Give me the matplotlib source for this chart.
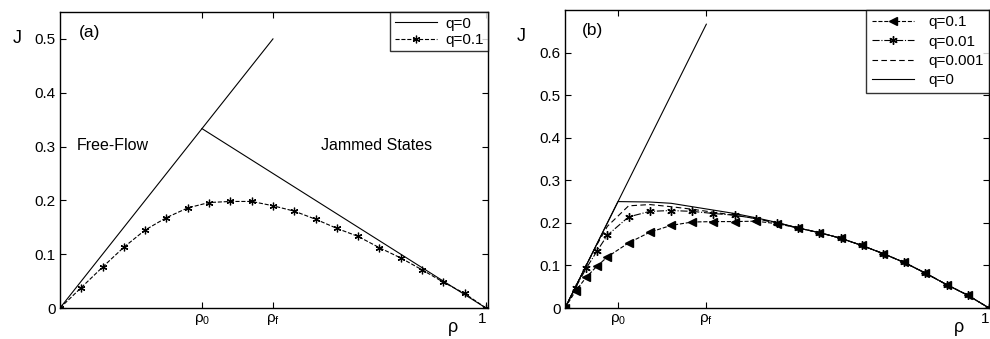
import numpy as np
import matplotlib
matplotlib.use('Agg')
import matplotlib.pyplot as plt

plt.rcParams['font.family'] = ['Liberation Sans', 'DejaVu Sans']
plt.rcParams['mathtext.fontset'] = 'custom'
plt.rcParams['mathtext.rm'] = 'Liberation Sans'
plt.rcParams['mathtext.it'] = 'Liberation Sans'

# ---- panel (a) data ----
rho0_a = 1 / 3
rhof_a = 0.5
free_rho_a = [0, rhof_a]
free_J_a = [0, 0.5]
jam_rho_a = [rho0_a, 1.0]
jam_J_a = [1 / 3, 0.0]
rho_a = [0, 0.05, 0.1, 0.15, 0.2, 0.25, 0.3, 0.35, 0.4, 0.45, 0.5,
         0.55, 0.6, 0.65, 0.7, 0.75, 0.8, 0.85, 0.9, 0.95, 1.0]
J_a_q01 = [0, 0.038, 0.076, 0.113, 0.145, 0.168, 0.186, 0.196, 0.198, 0.198, 0.19,
           0.18, 0.165, 0.148, 0.133, 0.112, 0.093, 0.071, 0.048, 0.027, 0]

# ---- panel (b) data ----
rho0_b = 0.125
rhof_b = 1 / 3
free_rho_b = [0, rhof_b]
free_J_b = [0, 2 / 3]
rho_b = [0, 0.025, 0.05, 0.075, 0.1, 0.15, 0.2, 0.25, 0.3, 0.35, 0.4, 0.45, 0.5,
         0.55, 0.6, 0.65, 0.7, 0.75, 0.8, 0.85, 0.9, 0.95, 1.0]
tail_J = [0.188, 0.177, 0.164, 0.147, 0.128, 0.107, 0.082, 0.055, 0.030, 0]
J_b_q01 = [0, 0.04, 0.072, 0.098, 0.12, 0.153, 0.178, 0.194, 0.202, 0.203,
           0.203, 0.204, 0.198] + tail_J
J_b_q001 = [0, 0.048, 0.093, 0.133, 0.171, 0.214, 0.227, 0.229, 0.227, 0.222,
            0.218, 0.21, 0.2] + tail_J
J_b_q0001 = [0, 0.05, 0.1, 0.148, 0.192, 0.240, 0.243, 0.238, 0.232, 0.225,
             0.218, 0.21, 0.2] + tail_J
rho_b_q0 = [0, 0.125, 0.2, 0.25, 0.3, 0.35, 0.4, 0.45, 0.5,
            0.55, 0.6, 0.65, 0.7, 0.75, 0.8, 0.85, 0.9, 0.95, 1.0]
J_b_q0 = [0, 0.25, 0.249, 0.246, 0.238, 0.23, 0.222, 0.212, 0.201] + tail_J

fig = plt.figure(figsize=(9.9, 3.39), dpi=100)
ax1 = fig.add_axes([0.0606, 0.0914, 0.4324, 0.8732])
ax2 = fig.add_axes([0.5707, 0.0914, 0.4283, 0.8791])

lw = 0.8
star = (6, 2, 0)


def style_axes(ax):
    ax.tick_params(direction='in', top=True, right=True, length=4,
                   width=0.8, labelsize=11, pad=3)
    for s in ax.spines.values():
        s.set_linewidth(1.0)
    # the last x label ("1") sits left of its tick, as in the original
    ax.get_xticklabels()[-1].set_horizontalalignment('right')


# panel (a)
ax1.plot(free_rho_a, free_J_a, color='black', lw=lw, label='q=0')
ax1.plot(jam_rho_a, jam_J_a, color='black', lw=lw)
ax1.plot(rho_a, J_a_q01, color='black', lw=lw, ls='--', marker=star,
         ms=5.5, mew=0.9, label='q=0.1')
ax1.set_xlim(0, 1.005)
ax1.set_ylim(0, 0.55)
ax1.set_xticks([rho0_a, rhof_a, 1.0])
ax1.set_xticklabels([r'$\rho_0$', r'$\rho_f$', '1'])
ax1.set_yticks([0, 0.1, 0.2, 0.3, 0.4, 0.5])
ax1.set_yticklabels(['0', '0.1', '0.2', '0.3', '0.4', '0.5'])
style_axes(ax1)
ax1.text(0.045, 0.93, '(a)', transform=ax1.transAxes, fontsize=12.5, va='center')
ax1.text(0.04, 0.55, 'Free-Flow', transform=ax1.transAxes, fontsize=11.5, va='center')
ax1.text(0.61, 0.55, 'Jammed States', transform=ax1.transAxes, fontsize=11.5, va='center')
ax1.text(-0.11, 0.91, 'J', transform=ax1.transAxes, fontsize=13, va='center')
ax1.text(0.905, -0.072, r'$\rho$', transform=ax1.transAxes, fontsize=13, va='center')
leg1 = ax1.legend(loc='upper right', fontsize=11, borderaxespad=0, frameon=True,
                  fancybox=False, edgecolor='black', handlelength=2.8,
                  borderpad=0.3, labelspacing=0.15, handletextpad=0.5)
leg1.get_frame().set_linewidth(1.0)

# panel (b)
ax2.plot(free_rho_b, free_J_b, color='black', lw=lw)
l1, = ax2.plot(rho_b, J_b_q01, color='black', lw=lw, ls='--', marker='<',
               ms=6, label='q=0.1')
l2, = ax2.plot(rho_b, J_b_q001, color='black', lw=lw, ls='-.', marker=star,
               ms=6, mew=1.0, label='q=0.01')
l3, = ax2.plot(rho_b, J_b_q0001, color='black', lw=lw, ls=(0, (5, 3)),
               label='q=0.001')
l4, = ax2.plot(rho_b_q0, J_b_q0, color='black', lw=lw, label='q=0')
ax2.set_xlim(0, 1)
ax2.set_ylim(0, 0.7)
ax2.set_xticks([rho0_b, rhof_b, 1.0])
ax2.set_xticklabels([r'$\rho_0$', r'$\rho_f$', '1'])
ax2.set_yticks([0, 0.1, 0.2, 0.3, 0.4, 0.5, 0.6])
ax2.set_yticklabels(['0', '0.1', '0.2', '0.3', '0.4', '0.5', '0.6'])
style_axes(ax2)
ax2.text(0.04, 0.93, '(b)', transform=ax2.transAxes, fontsize=12.5, va='center')
ax2.text(-0.115, 0.91, 'J', transform=ax2.transAxes, fontsize=13, va='center')
ax2.text(0.915, -0.07, r'$\rho$', transform=ax2.transAxes, fontsize=13, va='center')
leg2 = ax2.legend(handles=[l1, l2, l3, l4], loc='upper right', fontsize=11,
                  borderaxespad=0, frameon=True, fancybox=False,
                  edgecolor='black', handlelength=2.8, borderpad=0.35,
                  labelspacing=0.35, handletextpad=0.9)
leg2.get_frame().set_linewidth(1.0)

fig.savefig('out.png', dpi=100)
